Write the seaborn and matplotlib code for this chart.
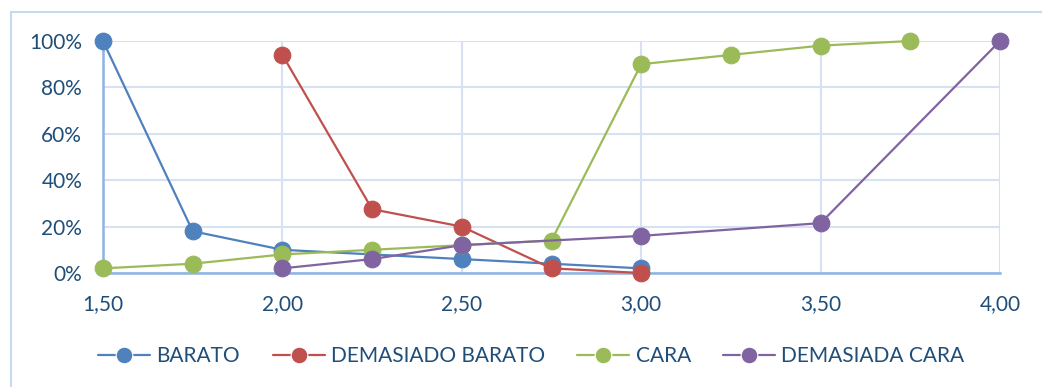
import matplotlib
matplotlib.use("Agg")
import matplotlib.pyplot as plt
import seaborn as sns
import pandas as pd
from matplotlib.patches import Rectangle
from matplotlib.ticker import FuncFormatter

# ---- data ----
series_names = ["BARATO", "DEMASIADO BARATO", "CARA", "DEMASIADA CARA"]

barato_x = [1.50, 1.75, 2.00, 2.50, 2.75, 3.00]
barato_y = [100, 18, 10, 6, 4, 2]

dem_barato_x = [2.00, 2.25, 2.50, 2.75, 3.00]
dem_barato_y = [94, 27.5, 20, 2, 0]

cara_x = [1.50, 1.75, 2.00, 2.25, 2.50, 2.75, 3.00, 3.25, 3.50, 3.75]
cara_y = [2, 4, 8, 10, 12, 14, 90, 94, 98, 100]

dem_cara_x = [2.00, 2.25, 2.50, 3.00, 3.50, 4.00]
dem_cara_y = [2, 6, 12, 16, 21.5, 100]

x_ticks = [1.50, 2.00, 2.50, 3.00, 3.50, 4.00]
y_ticks = [0, 20, 40, 60, 80, 100]

colors = ["#4f81bd", "#c0504d", "#9bbb59", "#8064a2"]
text_color = "#1f4e79"

frames = []
for name, xs, ys in zip(series_names,
                        [barato_x, dem_barato_x, cara_x, dem_cara_x],
                        [barato_y, dem_barato_y, cara_y, dem_cara_y]):
    frames.append(pd.DataFrame({"precio": xs, "pct": ys, "serie": name}))
df = pd.concat(frames, ignore_index=True)

sns.set_style("white")
plt.rcParams["font.family"] = ["Lato", "DejaVu Sans"]

W, H = 1042, 387
fig = plt.figure(figsize=(W / 100, H / 100), dpi=100)
ax = fig.add_axes([103 / W, 1 - 273 / H, (1000 - 103) / W, (273 - 41) / H])

# outer chart border
fig.patches.append(Rectangle((11 / W, -0.05), 1.1, 1 - 12 / H + 0.05,
                             transform=fig.transFigure, fill=False,
                             edgecolor="#c6d9f1", linewidth=1.5, zorder=0))

sns.lineplot(data=df, x="precio", y="pct", hue="serie", hue_order=series_names,
             palette=colors, marker="o", markersize=12, linewidth=1.6,
             markeredgewidth=0.8, sort=False, estimator=None, ax=ax,
             legend=True, clip_on=False, zorder=3)
for line, c in zip(ax.get_lines(), colors):
    line.set_markeredgecolor(c)

ax.set_xlim(1.5, 4.0)
ax.set_ylim(0, 100)
ax.set_xticks(x_ticks)
ax.set_yticks(y_ticks)
ax.xaxis.set_major_formatter(FuncFormatter(lambda v, p: f"{v:.2f}".replace(".", ",")))
ax.yaxis.set_major_formatter(FuncFormatter(lambda v, p: f"{v:.0f}%"))
ax.grid(True, color="#d6e2f2", linewidth=1.5)
ax.set_axisbelow(True)
for s in ["top", "right"]:
    ax.spines[s].set_visible(False)
for s in ["left", "bottom"]:
    ax.spines[s].set_color("#8db3e2")
    ax.spines[s].set_linewidth(1.8)
ax.tick_params(axis="both", length=0, labelsize=15, colors=text_color)
ax.tick_params(axis="x", pad=15)
ax.tick_params(axis="y", pad=15)
ax.set_xlabel("")
ax.set_ylabel("")

handles, labels = ax.get_legend_handles_labels()
ax.get_legend().remove()
leg = fig.legend(handles, labels, loc="center", bbox_to_anchor=(0.51, 1 - 356 / H),
                 ncol=4, frameon=False, fontsize=15, handlelength=2.5,
                 handletextpad=0.3, columnspacing=1.55)
for t in leg.get_texts():
    t.set_color(text_color)

fig.savefig("out.png", dpi=100)
